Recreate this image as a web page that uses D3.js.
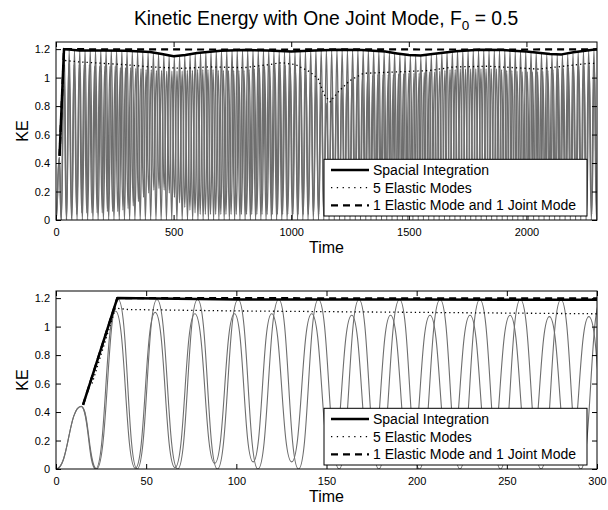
<!DOCTYPE html>
<html><head><meta charset="utf-8">
<script src="https://cdn.jsdelivr.net/npm/d3@7"></script>
<style>body{margin:0;background:#fff}svg{display:block}text{font-family:"Liberation Sans",Arial,Helvetica,sans-serif;fill:#000}</style>
</head><body><svg id="c" width="608" height="510"></svg>
<script>
// ---------------- DATA ----------------
const titleText = "Kinetic Energy with One Joint Mode, F";
const titleSub = "0";
const titleTail = " = 0.5";
const xLabel = "Time";
const yLabel = "KE";
const xTicksTop = [0, 500, 1000, 1500, 2000];
const xTicksBottom = [0, 50, 100, 150, 200, 250, 300];
const yTicks = [0, 0.2, 0.4, 0.6, 0.8, 1, 1.2];
const legendLabels = ["Spacial Integration", "5 Elastic Modes", "1 Elastic Mode and 1 Joint Mode"];

// Spacial Integration (black solid)
const spacialT  = [15, 34, 100, 200, 300, 400, 450, 500, 550, 600, 700, 800, 900, 1000, 1100, 1200, 1300, 1400, 1450, 1500, 1550, 1600, 1700, 1800, 1900, 2000, 2100, 2150, 2200, 2300];
const spacialKE = [0.45, 1.2, 1.19, 1.19, 1.188, 1.18, 1.165, 1.15, 1.158, 1.172, 1.188, 1.193, 1.19, 1.183, 1.19, 1.195, 1.193, 1.183, 1.17, 1.158, 1.155, 1.165, 1.185, 1.195, 1.193, 1.183, 1.165, 1.163, 1.178, 1.2];
// 5 Elastic Modes (dotted)
const elasticT  = [20, 33, 40, 100, 200, 300, 400, 540, 650, 800, 900, 960, 1020, 1080, 1115, 1140, 1165, 1200, 1250, 1307, 1450, 1590, 1690, 1840, 2050, 2264, 2300];
const elasticKE = [0.6, 1.13, 1.12, 1.11, 1.10, 1.09, 1.075, 1.065, 1.075, 1.07, 1.09, 1.105, 1.09, 1.04, 0.99, 0.88, 0.83, 0.9, 0.98, 1.03, 1.04, 1.05, 1.075, 1.08, 1.06, 1.10, 1.10];
// 1 Elastic Mode and 1 Joint Mode (dashed)
const jointT  = [15, 34, 300, 800, 1300, 1800, 2300];
const jointKE = [0.45, 1.2, 1.198, 1.197, 1.198, 1.197, 1.198];

// Oscillating KE, curve A (peaks touching the Spacial Integration level)
const grayAPeakT = [14, 34.5, 56, 78.5, 101, 123.5, 145.5, 168, 190.5, 213, 235, 257.5, 280, 302, 324.5, 347, 369, 391.5, 414, 436, 458.5, 481, 503, 525.5, 547.5, 570, 592, 614.5, 637, 659, 681.5, 703.5, 726, 748.5, 770.5, 793, 815, 837.5, 860, 882, 904.5, 926.5, 949, 971.5, 993.5, 1016, 1038, 1060.5, 1083, 1105, 1127.5, 1149.5, 1172, 1194.5, 1216.5, 1239, 1261, 1283.5, 1306, 1328, 1350.5, 1372.5, 1395, 1417.5, 1439.5, 1462, 1484, 1506.5, 1529, 1551, 1573.5, 1595.5, 1618, 1640.5, 1662.5, 1685, 1707, 1729.5, 1752, 1774, 1796.5, 1818.5, 1841, 1863.5, 1885.5, 1908, 1930, 1952.5, 1975, 1997, 2019.5, 2041.5, 2064, 2086.5, 2108.5, 2131, 2153, 2175.5, 2198, 2220, 2242.5, 2264.5, 2287, 2309.5];
const grayAPeakKE = [0.44, 1.19, 1.19, 1.19, 1.19, 1.19, 1.19, 1.19, 1.19, 1.19, 1.19, 1.19, 1.19, 1.185, 1.185, 1.185, 1.18, 1.18, 1.175, 1.17, 1.16, 1.155, 1.15, 1.15, 1.155, 1.16, 1.17, 1.175, 1.18, 1.185, 1.19, 1.19, 1.19, 1.19, 1.19, 1.19, 1.19, 1.19, 1.19, 1.19, 1.19, 1.185, 1.185, 1.18, 1.18, 1.18, 1.185, 1.185, 1.19, 1.19, 1.19, 1.19, 1.19, 1.19, 1.19, 1.19, 1.19, 1.19, 1.19, 1.19, 1.185, 1.185, 1.18, 1.175, 1.17, 1.165, 1.16, 1.155, 1.15, 1.15, 1.155, 1.16, 1.17, 1.175, 1.18, 1.185, 1.19, 1.19, 1.19, 1.19, 1.19, 1.19, 1.19, 1.19, 1.19, 1.19, 1.19, 1.185, 1.185, 1.18, 1.18, 1.175, 1.17, 1.165, 1.16, 1.16, 1.16, 1.165, 1.17, 1.18, 1.185, 1.19, 1.195, 1.195];
const grayATroughT = [0, 22.5, 45, 67.5, 89.5, 112, 134.5, 157, 179, 201.5, 224, 246.5, 269, 291, 313, 335.5, 358, 380, 402.5, 425, 447, 469.5, 492, 514, 536.5, 559, 581, 603.5, 625.5, 648, 670, 692.5, 715, 737, 759.5, 782, 804, 826.5, 848.5, 871, 893, 915.5, 938, 960, 982.5, 1005, 1027, 1049.5, 1071.5, 1094, 1116, 1138.5, 1161, 1183, 1205.5, 1228, 1250, 1272.5, 1294.5, 1317, 1339, 1361.5, 1384, 1406, 1428.5, 1451, 1473, 1495.5, 1517.5, 1540, 1562, 1584.5, 1607, 1629, 1651.5, 1674, 1696, 1718.5, 1740.5, 1763, 1785, 1807.5, 1830, 1852, 1874.5, 1897, 1919, 1941.5, 1963.5, 1986, 2008, 2030.5, 2053, 2075, 2097.5, 2120, 2142, 2164.5, 2186.5, 2209, 2231, 2253.5, 2276, 2298];
const grayATroughKE = [0, 0, 0, 0, 0, 0, 0, 0, 0, 0, 0, 0, 0, 0, 0, 0, 0, 0, 0, 0, 0, 0, 0, 0, 0, 0, 0, 0, 0, 0, 0, 0, 0, 0, 0, 0, 0, 0, 0, 0, 0, 0, 0, 0, 0, 0, 0, 0, 0, 0, 0, 0, 0, 0, 0, 0, 0, 0, 0, 0, 0, 0, 0, 0, 0, 0, 0, 0, 0, 0, 0, 0, 0, 0, 0, 0, 0, 0, 0, 0, 0, 0, 0, 0, 0, 0, 0, 0, 0, 0, 0, 0, 0, 0, 0, 0, 0, 0, 0, 0, 0, 0, 0, 0];

// Oscillating KE, curve B (peaks just under the 5 Elastic Modes level)
const grayBPeakT = [14, 33, 55, 77, 99, 119.6, 141.8, 164, 185.5, 207.4, 229.6, 251.8, 273.6, 295.5, 317.4, 339.3, 361.2, 383.1, 405, 426.9, 448.8, 470.7, 492.6, 514.5, 536.4, 558.3, 580.2, 602.1, 624, 645.9, 667.8, 689.7, 711.6, 733.5, 755.4, 777.3, 799.2, 821.1, 843, 864.9, 886.8, 908.7, 930.6, 952.5, 974.4, 996.3, 1018.2, 1040.1, 1062, 1083.9, 1105.8, 1127.7, 1149.6, 1171.5, 1193.4, 1215.3, 1237.2, 1259.1, 1281, 1302.9, 1324.8, 1346.7, 1368.6, 1390.5, 1412.4, 1434.3, 1456.2, 1478.1, 1500, 1521.9, 1543.8, 1565.7, 1587.6, 1609.5, 1631.4, 1653.3, 1675.2, 1697.1, 1719, 1740.9, 1762.8, 1784.7, 1806.6, 1828.5, 1850.4, 1872.3, 1894.2, 1916.1, 1938, 1959.9, 1981.8, 2003.7, 2025.6, 2047.5, 2069.4, 2091.3, 2113.2, 2135.1, 2157, 2178.9, 2200.8, 2222.7, 2244.6, 2266.5, 2288.4, 2310.3];
const grayBPeakKE = [0.44, 1.11, 1.1, 1.09, 1.09, 1.09, 1.09, 1.08, 1.08, 1.08, 1.08, 1.08, 1.07, 1.07, 1.07, 1.065, 1.06, 1.055, 1.055, 1.05, 1.05, 1.045, 1.045, 1.045, 1.045, 1.05, 1.05, 1.055, 1.055, 1.055, 1.055, 1.05, 1.05, 1.05, 1.05, 1.05, 1.05, 1.055, 1.06, 1.07, 1.08, 1.085, 1.09, 1.09, 1.085, 1.07, 1.055, 1.04, 1.02, 1.0, 0.97, 0.9, 0.82, 0.86, 0.9, 0.95, 0.98, 1.0, 1.01, 1.01, 1.01, 1.015, 1.02, 1.02, 1.02, 1.02, 1.025, 1.025, 1.03, 1.03, 1.03, 1.035, 1.04, 1.04, 1.045, 1.05, 1.055, 1.055, 1.06, 1.06, 1.06, 1.06, 1.06, 1.06, 1.06, 1.06, 1.055, 1.05, 1.05, 1.045, 1.04, 1.04, 1.04, 1.04, 1.045, 1.05, 1.055, 1.06, 1.065, 1.07, 1.075, 1.08, 1.08, 1.08, 1.085, 1.085];
const grayBTroughT = [0, 22, 44, 66, 88, 109.3, 130.7, 152.9, 174.8, 196.5, 218.5, 240.7, 262.7, 284.6, 306.5, 328.4, 350.3, 372.2, 394.1, 416, 437.9, 459.8, 481.7, 503.6, 525.5, 547.4, 569.3, 591.2, 613.1, 635, 656.9, 678.8, 700.7, 722.6, 744.5, 766.4, 788.3, 810.2, 832.1, 854, 875.9, 897.8, 919.7, 941.6, 963.5, 985.4, 1007.3, 1029.2, 1051.1, 1073, 1094.9, 1116.8, 1138.7, 1160.6, 1182.5, 1204.4, 1226.3, 1248.2, 1270.1, 1292, 1313.9, 1335.8, 1357.7, 1379.6, 1401.5, 1423.4, 1445.3, 1467.2, 1489.1, 1511, 1532.9, 1554.8, 1576.7, 1598.6, 1620.5, 1642.4, 1664.3, 1686.2, 1708.1, 1730, 1751.9, 1773.8, 1795.7, 1817.6, 1839.5, 1861.4, 1883.3, 1905.2, 1927.1, 1949, 1970.9, 1992.8, 2014.7, 2036.6, 2058.5, 2080.4, 2102.3, 2124.2, 2146.1, 2168, 2189.9, 2211.8, 2233.7, 2255.6, 2277.5, 2299.4];
const grayBTroughKE = [0, 0, 0.005, 0.01, 0.04, 0.05, 0.05, 0.05, 0.05, 0.05, 0.06, 0.06, 0.06, 0.07, 0.08, 0.1, 0.13, 0.16, 0.19, 0.21, 0.22, 0.21, 0.19, 0.16, 0.12, 0.09, 0.07, 0.05, 0.04, 0.04, 0.04, 0.04, 0.04, 0.04, 0.04, 0.04, 0.04, 0.04, 0.04, 0.04, 0.04, 0.04, 0.04, 0.04, 0.04, 0.04, 0.04, 0.04, 0.04, 0.04, 0.04, 0.04, 0.04, 0.04, 0.04, 0.04, 0.04, 0.04, 0.04, 0.04, 0.04, 0.04, 0.04, 0.04, 0.04, 0.04, 0.04, 0.04, 0.04, 0.04, 0.04, 0.04, 0.04, 0.04, 0.04, 0.04, 0.04, 0.04, 0.04, 0.04, 0.04, 0.04, 0.04, 0.04, 0.04, 0.04, 0.04, 0.04, 0.04, 0.04, 0.04, 0.04, 0.04, 0.04, 0.04, 0.04, 0.04, 0.04, 0.04, 0.04, 0.04, 0.04, 0.04, 0.04, 0.04, 0.04];

// ---------------- DRAWING ----------------
const svg = d3.select("#c");
const FONT = '"Liberation Sans",Arial,Helvetica,sans-serif';

function merge(pt, pk, tt, tk) {
  const a = pt.map((t, i) => ({t, v: pk[i]})).concat(tt.map((t, i) => ({t, v: tk[i]})));
  return a.sort((p, q) => p.t - q.t);
}
function pairs(ts, vs) { return ts.map((t, i) => ({t, v: vs[i]})); }

const grayA = merge(grayAPeakT, grayAPeakKE, grayATroughT, grayATroughKE);
const grayB = merge(grayBPeakT, grayBPeakKE, grayBTroughT, grayBTroughKE);
const spacial = pairs(spacialT, spacialKE);
const elastic = pairs(elasticT, elasticKE);
const joint = pairs(jointT, jointKE);

// title
const title = svg.append("text").attr("x", 326).attr("y", 25).attr("text-anchor", "middle")
  .style("font-size", "19.3px");
title.append("tspan").text(titleText);
title.append("tspan").attr("dy", 5).style("font-size", "13.5px").text(titleSub);
title.append("tspan").attr("dy", -5).text(titleTail);

function panel(id, xmax, xticks, top, bottom, grayW) {
  const L = 56, R = 597;
  const x = d3.scaleLinear().domain([0, xmax]).range([L, R]);
  const y = d3.scaleLinear().domain([0, 1.25]).range([bottom, top]);
  const g = svg.append("g");
  g.append("clipPath").attr("id", "clip" + id).append("rect")
    .attr("x", L).attr("y", top).attr("width", R - L).attr("height", bottom - top);
  const plot = g.append("g").attr("clip-path", `url(#clip${id})`);
  const lineOsc = d3.line().x(d => x(d.t)).y(d => y(d.v)).curve(d3.curveBumpX);
  const lineLin = d3.line().x(d => x(d.t)).y(d => y(d.v));

  [grayA, grayB].forEach(data => {
    plot.append("path").datum(data).attr("d", lineOsc)
      .attr("fill", "none").attr("stroke", "#6e6e6e").attr("stroke-width", grayW);
  });
  plot.append("path").datum(spacial).attr("d", lineLin)
    .attr("fill", "none").attr("stroke", "#000").attr("stroke-width", 2.5).attr("stroke-linejoin", "round");
  plot.append("path").datum(elastic).attr("d", lineLin)
    .attr("fill", "none").attr("stroke", "#000").attr("stroke-width", 1.3).attr("stroke-dasharray", "1.3,3");
  plot.append("path").datum(joint).attr("d", lineLin)
    .attr("fill", "none").attr("stroke", "#000").attr("stroke-width", 2.2).attr("stroke-dasharray", "7,5");

  // axes
  const fmt = d => String(+d.toFixed(2));
  const ax = (gen, tr) => g.append("g").attr("transform", tr).call(gen)
    .call(s => s.select(".domain").remove())
    .call(s => s.selectAll("text").style("font-size", "11px").style("font-family", FONT))
    .call(s => s.selectAll("line").attr("stroke", "#000"));
  ax(d3.axisBottom(x).tickValues(xticks).tickFormat(fmt).tickSizeInner(-5).tickSizeOuter(0).tickPadding(8), `translate(0,${bottom})`);
  ax(d3.axisTop(x).tickValues(xticks).tickFormat("").tickSizeInner(-5).tickSizeOuter(0), `translate(0,${top})`);
  ax(d3.axisLeft(y).tickValues(yTicks).tickFormat(fmt).tickSizeInner(-5).tickSizeOuter(0).tickPadding(6), `translate(${L},0)`);
  ax(d3.axisRight(y).tickValues(yTicks).tickFormat("").tickSizeInner(-5).tickSizeOuter(0), `translate(${R},0)`);
  g.append("rect").attr("x", L).attr("y", top).attr("width", R - L).attr("height", bottom - top)
    .attr("fill", "none").attr("stroke", "#000").attr("stroke-width", 1);

  g.append("text").attr("x", (L + R) / 2).attr("y", bottom + 33).attr("text-anchor", "middle")
    .style("font-size", "16px").text(xLabel);
  g.append("text").attr("transform", `translate(28,${(top + bottom) / 2}) rotate(-90)`)
    .attr("text-anchor", "middle").style("font-size", "16px").text(yLabel);

  // legend
  const lx = 324, lw = 263, ly = top + 117.3, lh = 56.7;
  const lg = g.append("g");
  lg.append("rect").attr("x", lx).attr("y", ly).attr("width", lw).attr("height", lh)
    .attr("fill", "#fff").attr("stroke", "#000").attr("stroke-width", 1);
  const styles = [
    {w: 2.5, dash: null},
    {w: 1.3, dash: "1.3,4.5"},
    {w: 2.2, dash: "7,5"}
  ];
  legendLabels.forEach((lab, i) => {
    const cy = ly + 10.7 + i * 17.7;
    lg.append("line").attr("x1", 331).attr("x2", 369).attr("y1", cy).attr("y2", cy)
      .attr("stroke", "#000").attr("stroke-width", styles[i].w)
      .attr("stroke-dasharray", styles[i].dash);
    lg.append("text").attr("x", 373).attr("y", cy + 5).style("font-size", "14px").text(lab);
  });
}

panel("a", 2300, xTicksTop, 42, 220, 1.4);
panel("b", 300, xTicksBottom, 291, 469, 1.1);
</script></body></html>
